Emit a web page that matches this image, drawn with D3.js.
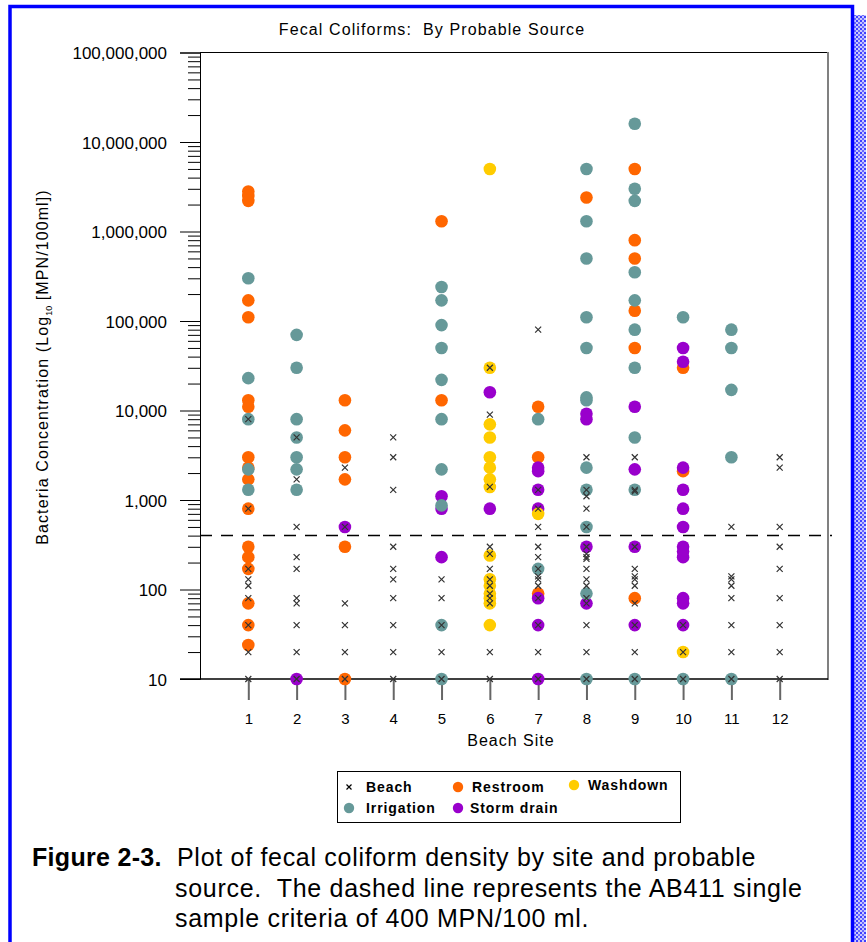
<!DOCTYPE html>
<html>
<head>
<meta charset="utf-8">
<script src="https://cdn.jsdelivr.net/npm/d3@7"></script>
<style>
  body { margin: 0; background: #fff; }
  svg text { font-family: "Liberation Sans", Arial, sans-serif; fill: #000; white-space: pre; }
</style>
</head>
<body>
<script>
// sitios de playa 1..12 (MPN/100ml)
const sites = [1, 2, 3, 4, 5, 6, 7, 8, 9, 10, 11, 12];

// un arreglo por sitio para cada fuente probable
const restroom = [
  [2800000, 2500000, 2200000, 170000, 110000, 13000, 11000, 3000, 2300, 1700, 800, 300, 230, 170, 70, 40, 24],
  [],
  [13000, 6000, 3000, 1700, 300, 10],
  [],
  [1300000, 13000],
  [],
  [11000, 3000, 90],
  [2400000],
  [5000000, 800000, 500000, 130000, 50000, 80],
  [30000, 2100],
  [],
  []
];
const stormDrain = [
  [],
  [10],
  [500],
  [],
  [1100, 800, 230],
  [16000, 800],
  [2300, 2100, 1300, 800, 80, 40, 10],
  [9200, 8000, 300, 70],
  [11000, 2200, 300, 40],
  [50000, 35000, 2300, 1300, 800, 500, 300, 265, 230, 80, 70, 40],
  [],
  []
];
const irrigation = [
  [300000, 23000, 8000, 2200, 1300],
  [70000, 30000, 8000, 5000, 3000, 2200, 1300],
  [],
  [],
  [240000, 170000, 90000, 50000, 22000, 8000, 2200, 870, 40, 10],
  [],
  [8000, 170],
  [5000000, 1300000, 500000, 110000, 50000, 14000, 13000, 2300, 1300, 500, 90, 10],
  [16000000, 3000000, 2200000, 350000, 170000, 80000, 30000, 5000, 1300, 10],
  [110000, 10],
  [80000, 50000, 17000, 3000, 10],
  []
];
const washdown = [
  [], [], [], [], [],
  [5000000, 30000, 7000, 5000, 3000, 2300, 1700, 1400, 240, 130, 110, 90, 80, 70, 40],
  [700],
  [], [],
  [20],
  [], []
];
const beach = [
  [8000, 800, 170, 130, 110, 80, 40, 20, 10],
  [5000, 1700, 500, 230, 170, 80, 70, 40, 20, 10],
  [2300, 500, 70, 40, 20, 10],
  [5000, 3000, 1300, 300, 170, 130, 80, 40, 20, 10],
  [130, 80, 40, 20, 10],
  [30000, 9000, 1400, 300, 250, 170, 130, 110, 90, 80, 70, 20, 10],
  [80000, 1300, 800, 500, 300, 230, 170, 140, 130, 110, 80, 40, 20, 10],
  [3000, 1300, 1100, 800, 500, 300, 250, 230, 220, 170, 130, 110, 80, 70, 40, 20, 10],
  [3000, 1300, 1250, 300, 170, 140, 130, 110, 70, 40, 20, 10],
  [40, 20, 10],
  [500, 140, 130, 110, 80, 40, 20, 10],
  [3000, 2300, 500, 300, 170, 80, 40, 20, 10]
];

const criteria = 400;
const majorTicks = [10, 100, 1000, 10000, 100000, 1000000, 10000000, 100000000];

const WIDTH = 867;
const HEIGHT = 942;

const colors = {
  restroom: '#ff6600',
  irrigation: '#669999',
  washdown: '#ffcc00',
  storm: '#9900cc',
  beach: '#333'
};

const svg = d3.select('body').append('svg')
  .attr('width', WIDTH)
  .attr('height', HEIGHT);

// marco azul de la figura
const defs = svg.append('defs');
const pat = defs.append('pattern')
  .attr('id', 'hatch')
  .attr('width', 4).attr('height', 4)
  .attr('patternUnits', 'userSpaceOnUse');
pat.append('rect').attr('width', 4).attr('height', 4).attr('fill', '#c8c8ff');
pat.append('rect').attr('width', 2).attr('height', 2).attr('fill', '#4040ff');
pat.append('rect').attr('x', 2).attr('y', 2).attr('width', 2).attr('height', 2).attr('fill', '#6a6aff');

svg.append('rect').attr('x', 854).attr('y', 15).attr('width', 12).attr('height', HEIGHT - 15)
  .attr('fill', 'url(#hatch)');
svg.append('path')
  .attr('d', 'M10,942 L10,6.5 L852.5,6.5 L852.5,942')
  .attr('fill', 'none')
  .attr('stroke', '#0000ff')
  .attr('stroke-width', 3.5);

const x = d3.scaleLinear().domain([0, 13]).range([200, 828]);
const y = d3.scaleLog().domain([10, 1e8]).range([679, 52.5]);

// titulo
svg.append('text')
  .attr('x', 432).attr('y', 35)
  .attr('text-anchor', 'middle')
  .style('font-size', '16px')
  .style('letter-spacing', '1.1px')
  .text('Fecal Coliforms:  By Probable Source');

// marco del grafico
svg.append('line')
  .attr('x1', 200).attr('x2', 828).attr('y1', 52.5).attr('y2', 52.5)
  .attr('stroke', '#000').attr('stroke-width', 1);
svg.append('line')
  .attr('x1', 828).attr('x2', 828).attr('y1', 52).attr('y2', 680)
  .attr('stroke', '#808080').attr('stroke-width', 2);

// eje y: menores y mayores
const minorTicks = [];
majorTicks.slice(0, -1).forEach(d => {
  for (let k = 2; k <= 9; k++) minorTicks.push(d * k);
});

const yMinor = svg.append('g')
  .attr('transform', 'translate(200,0)')
  .call(d3.axisLeft(y).tickValues(minorTicks).tickSize(12).tickFormat(''));
yMinor.select('.domain').remove();

const yMajor = svg.append('g')
  .attr('transform', 'translate(200,0)')
  .call(d3.axisLeft(y).tickValues(majorTicks).tickSize(20).tickPadding(13)
    .tickFormat(d3.format(',')));
yMajor.select('.domain').attr('stroke', '#000');
yMajor.selectAll('text')
  .style('font-size', '17px')
  .attr('dy', '0.36em');
svg.selectAll('.tick line').attr('stroke', '#000');

// eje x
const xAxis = svg.append('g')
  .attr('transform', 'translate(0,679)')
  .call(d3.axisBottom(x).tickValues(sites).tickSize(21).tickPadding(13));
xAxis.select('.domain').remove();
xAxis.selectAll('.tick line').attr('stroke', '#666').attr('stroke-width', 2);
xAxis.selectAll('text').style('font-size', '15px');

svg.append('line')
  .attr('x1', 180).attr('x2', 828).attr('y1', 679).attr('y2', 679)
  .attr('stroke', '#000').attr('stroke-width', 1.5);

svg.append('text')
  .attr('x', 511).attr('y', 746)
  .attr('text-anchor', 'middle')
  .style('font-size', '16px')
  .style('letter-spacing', '1px')
  .text('Beach Site');

// titulo del eje y con subindice
const yLabel = svg.append('text')
  .attr('transform', 'translate(48,367) rotate(-90)')
  .attr('text-anchor', 'middle')
  .style('font-size', '16px')
  .style('letter-spacing', '1.1px');
yLabel.append('tspan').text('Bacteria Concentration (Log');
yLabel.append('tspan').attr('dy', 4).style('font-size', '9px').style('letter-spacing', '0px').text('10');
yLabel.append('tspan').attr('dy', -4).text(' [MPN/100ml])');

// linea de criterio AB411
svg.append('line')
  .attr('x1', 200).attr('x2', 832)
  .attr('y1', y(criteria)).attr('y2', y(criteria))
  .attr('stroke', '#000').attr('stroke-width', 1.5)
  .attr('stroke-dasharray', '12,9');

// puntos: aplanar cada serie
function flat(series) {
  const out = [];
  series.forEach((vals, i) => vals.forEach(v => out.push({ site: sites[i], v: v })));
  return out;
}

const R = 6.3;
const layers = [
  [restroom, colors.restroom],
  [stormDrain, colors.storm],
  [irrigation, colors.irrigation],
  [washdown, colors.washdown]
];
layers.forEach(([series, col]) => {
  svg.append('g').selectAll('circle')
    .data(flat(series))
    .join('circle')
    .attr('cx', d => x(d.site))
    .attr('cy', d => y(d.v))
    .attr('r', R)
    .attr('fill', col);
});

const cross = 'M-3,-3L3,3M-3,3L3,-3';
svg.append('g').selectAll('path')
  .data(flat(beach))
  .join('path')
  .attr('transform', d => `translate(${x(d.site)},${y(d.v)})`)
  .attr('d', cross)
  .attr('stroke', colors.beach)
  .attr('stroke-width', 1.2)
  .attr('fill', 'none');

// leyenda
const lg = svg.append('g');
lg.append('rect')
  .attr('x', 337.5).attr('y', 771.5).attr('width', 343).attr('height', 51)
  .attr('fill', '#fff').attr('stroke', '#000').attr('stroke-width', 1);

const legendItems = [
  { label: 'Beach', type: 'x', cx: 349, cy: 787, tx: 366 },
  { label: 'Restroom', type: colors.restroom, cx: 458, cy: 787, tx: 472 },
  { label: 'Washdown', type: colors.washdown, cx: 574, cy: 785, tx: 588 },
  { label: 'Irrigation', type: colors.irrigation, cx: 349, cy: 808, tx: 366 },
  { label: 'Storm drain', type: colors.storm, cx: 458, cy: 808, tx: 470 }
];
legendItems.forEach(it => {
  if (it.type === 'x') {
    lg.append('path')
      .attr('transform', `translate(${it.cx},${it.cy})`)
      .attr('d', 'M-2.5,-2.5L2.5,2.5M-2.5,2.5L2.5,-2.5')
      .attr('stroke', '#000').attr('stroke-width', 1.2);
  } else {
    lg.append('circle').attr('cx', it.cx).attr('cy', it.cy).attr('r', 5.2).attr('fill', it.type);
  }
  lg.append('text')
    .attr('x', it.tx).attr('y', it.cy + 5)
    .style('font-size', '14px')
    .style('font-weight', 'bold')
    .style('letter-spacing', '0.9px')
    .text(it.label);
});

// pie de figura
const cap = svg.append('g').style('font-size', '25px').style('letter-spacing', '0.7px');
const l1 = cap.append('text').attr('x', 32).attr('y', 866);
l1.append('tspan').style('font-weight', 'bold').style('letter-spacing', '0.3px').text('Figure 2-3.');
l1.append('tspan').attr('x', 177).text('Plot of fecal coliform density by site and probable');
cap.append('text').attr('x', 175).attr('y', 897)
  .text('source.  The dashed line represents the AB411 single');
cap.append('text').attr('x', 175).attr('y', 927)
  .text('sample criteria of 400 MPN/100 ml.');
</script>
</body>
</html>
